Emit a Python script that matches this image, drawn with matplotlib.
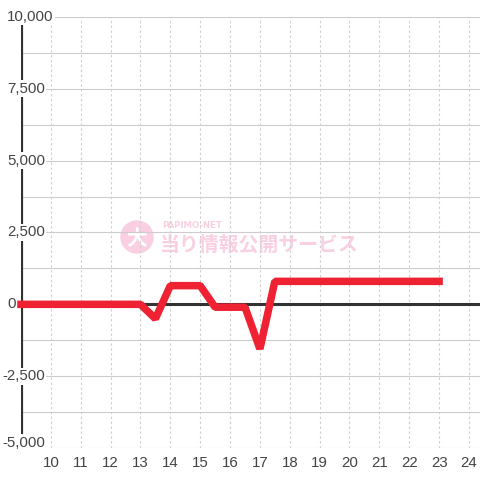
import matplotlib
matplotlib.use("Agg")
import matplotlib.pyplot as plt
from matplotlib.transforms import blended_transform_factory
from matplotlib.patches import Circle

hours = [9, 13, 13.5, 14, 15, 15.5, 16.5, 17, 17.5, 23]
values = [0, 0, -500, 650, 650, -100, -100, -1550, 800, 800]
x_ticks = list(range(10, 25))
y_major = [-5000, -2500, 0, 2500, 5000, 7500, 10000]
y_grid = [-5000, -3750, -2500, -1250, 0, 1250, 2500, 3750, 5000, 6250, 7500, 8750, 10000]

plt.rcParams['font.family'] = ['Liberation Sans', 'DejaVu Sans']

fig = plt.figure(figsize=(4.8, 4.8), dpi=100)
fig.patch.set_facecolor('white')
ax = fig.add_axes([21/480, 1 - 448/480, 1 - 21/480, (448 - 17)/480])
ax.set_xlim(9, 24.37)
ax.set_ylim(-5000, 10000)

for s in ['top', 'right', 'bottom', 'left']:
    ax.spines[s].set_visible(False)

# grid
for yv in y_grid:
    ax.axhline(yv, color='#cccccc', lw=0.8, zorder=1)
for xv in x_ticks:
    ax.axvline(xv, color='#d0d0d0', lw=0.8, ls=(0, (2.2, 2.2)), zorder=1)

# y axis line and zero line
ax.axvline(9, color='#333333', lw=2.3, zorder=2)
ax.axhline(0, color='#333333', lw=2.2, zorder=2)

# watermark
trans_fig = fig.transFigure
circ = Circle((137/480, 1 - 237/480), 16/480, transform=trans_fig, color='#f9cfe1', zorder=0.5)
ax.add_patch(circ)
ax.text(137/480, 1 - 239/480, '大', transform=trans_fig, ha='center', va='center',
        fontsize=15, color='white', fontweight='bold', family=['Noto Sans CJK JP'], zorder=0.6)
ax.text(160/480, 1 - 244/480, '当り情報公開サービス', transform=trans_fig, ha='left', va='center',
        fontsize=14.3, color='#f9cfe1', fontweight='bold', family=['Noto Sans CJK JP'], zorder=0.6)
ax.text(162/480, 1 - 226/480, 'PAPIMO-NET', transform=trans_fig, ha='left', va='center',
        fontsize=6.2, color='#f9cfe1', fontweight='bold', family=['DejaVu Sans'], zorder=0.6)

# data line
ax.plot(hours, values, color='#ee2233', lw=5.4, solid_joinstyle='bevel',
        solid_capstyle='projecting', zorder=3, clip_on=False)

# ticks
ax.set_xticks(x_ticks)
ax.set_xticklabels([str(t) for t in x_ticks])
ax.tick_params(axis='x', length=0, pad=5.5, labelsize=10.8, labelcolor='#444444')
ax.set_yticks([])

bt = blended_transform_factory(fig.transFigure, ax.transData)
for yv in y_major:
    ax.text(7/480 if yv >= 0 else 2/480, yv + (180 if yv == -5000 else 0), f'{yv:,}',
            transform=bt, ha='left', va='center',
            fontsize=10.8, color='#444444', zorder=4, clip_on=False,
            bbox=dict(facecolor='white', edgecolor='none', pad=1.0))

fig.savefig('out.png', dpi=100, facecolor='white')
